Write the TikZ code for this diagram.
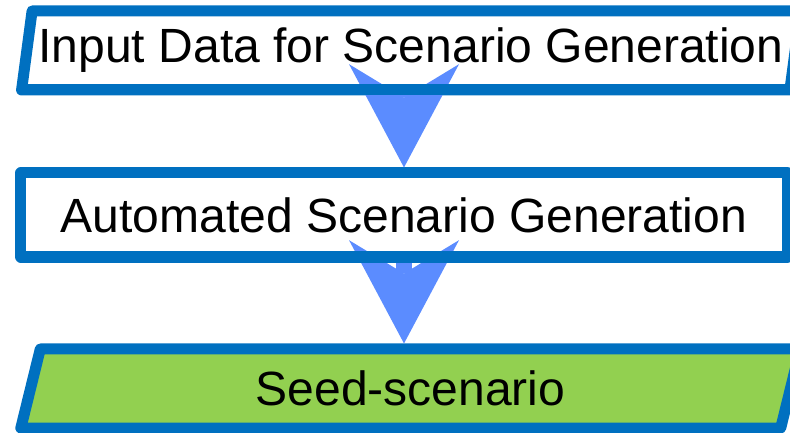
\documentclass[tikz,border=0pt]{standalone}
\usepackage{fontspec}
\setmainfont{Liberation Sans}
\usetikzlibrary{shapes.geometric,arrows.meta}
\definecolor{boxblue}{RGB}{0,112,192}
\definecolor{arrowblue}{RGB}{91,140,255}
\definecolor{seedgreen}{RGB}{146,208,80}
\tikzset{
  flowbox/.style={draw=boxblue, line width=0.33cm, line join=round, fill=white,
    outer sep=0pt, inner sep=0pt, font=\fontsize{41}{49}\selectfont},
  databox/.style={flowbox, trapezium, trapezium left angle=77, trapezium right angle=103,
    trapezium stretches=true, minimum width=23.43cm, minimum height=2.37cm},
  procbox/.style={flowbox, rectangle, minimum width=22.98cm, minimum height=2.52cm},
  flowarrow/.style={draw=arrowblue, line width=0.48cm,
    -{Stealth[length=3.1cm, width=3.3cm, inset=1.0cm, line width=0pt]}},
  rim/.style={draw=boxblue, line width=0.33cm}
}
\begin{document}
\begin{tikzpicture}[x=0.03cm, y=-0.03cm]
\useasboundingbox (0,0) rectangle (790,433);
\clip (0,0) rectangle (790,433);
% the three boxes
\node[databox] (in) at (411,50.5) {Input Data for Scenario Generation};
\node[procbox] (auto) at (404,215) {Automated Scenario Generation};
\node[databox, fill=seedgreen] (seed) at (410.5,388.5) {Seed-scenario};
% arrows between them
\draw[flowarrow] (auto.north |- in.south) -- ([yshift=0.165cm]auto.north);
\draw[flowarrow] (auto.south) -- ([yshift=0.165cm]auto.south |- seed.north);
% bottom borders lie over the arrows
\draw[rim] (in.bottom left corner) -- (in.bottom right corner);
\draw[rim] (auto.south west) -- (auto.south east);
\end{tikzpicture}
\end{document}
